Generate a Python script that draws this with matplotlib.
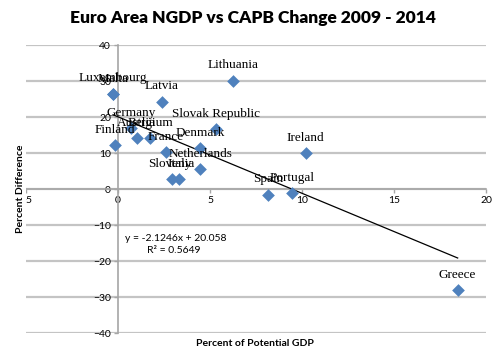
import numpy as np
import matplotlib.pyplot as plt

# data
countries = ['Luxembourg', 'Malta', 'Latvia', 'Lithuania', 'Germany', 'Finland',
             'Austria', 'Belgium', 'France', 'Slovak Republic', 'Denmark',
             'Netherlands', 'Slovenia', 'Italy', 'Spain', 'Portugal', 'Ireland', 'Greece']
capb = [-0.27, -0.25, 2.37, 6.27, 0.71, -0.16, 1.01, 1.74, 2.61, 5.30, 4.46,
        4.46, 2.92, 3.33, 8.17, 9.44, 10.20, 18.46]
ngdp = [26.5, 26.3, 24.3, 30.1, 16.9, 12.2, 14.1, 14.1, 10.2, 16.7, 11.3,
        5.6, 2.8, 2.7, -1.6, -1.2, 10.0, -28.0]

# trendline as given on the chart
slope = -2.1246
intercept = 20.058
r2 = 0.5649

fig = plt.figure(figsize=(5, 3.63), dpi=100)
ax = fig.add_axes([0.052, 0.0826, 0.92, 0.7934])

ax.set_xlim(-5, 20)
ax.set_ylim(-40, 40)
ax.set_xticks(np.arange(-5, 21, 5))
ax.set_yticks(np.arange(-40, 41, 10))

# horizontal gridlines only
ax.yaxis.grid(True, color='#c4c4c4', linewidth=1.6, zorder=0)
ax.set_axisbelow(True)

for s in ['top', 'right']:
    ax.spines[s].set_visible(False)
ax.spines['left'].set_position(('data', 0))
ax.spines['bottom'].set_position(('data', 0))
ax.spines['left'].set_color('#a6a6a6')
ax.spines['bottom'].set_color('#a6a6a6')
ax.spines['left'].set_linewidth(1.2)
ax.spines['bottom'].set_linewidth(1.2)
ax.tick_params(axis='both', colors='#a6a6a6', length=3, width=1, labelcolor='black',
               labelsize=7.5, pad=2)
for lab in ax.get_xticklabels() + ax.get_yticklabels():
    lab.set_family('Lato')

# trendline
xs = np.array([min(capb), max(capb)])
ax.plot(xs, slope * xs + intercept, color='black', linewidth=0.9, zorder=3)

ax.scatter(capb, ngdp, marker='D', s=42, color='#4f81bd', zorder=4, linewidths=0)

for name, x, y in zip(countries, capb, ngdp):
    ax.annotate(name, (x, y), xytext=(0, 11), textcoords='offset points',
                ha='center', va='center', fontsize=9.5, family='Liberation Serif',
                zorder=5)

ax.text(0.4, -13.8, 'y = -2.1246x + 20.058', fontsize=7.5, family='Lato', ha='left', va='center')
ax.text(1.55, -17.2, 'R² = 0.5649', fontsize=7.5, family='Lato', ha='left', va='center')

fig.text(0.505, 0.95, 'Euro Area NGDP vs CAPB Change 2009 - 2014', ha='center', va='center',
         fontsize=12.5, fontweight='heavy', family='Lato')
fig.text(0.51, 0.055, 'Percent of Potential GDP', ha='center', va='center',
         fontsize=7.5, fontweight='bold', family='Lato')
fig.text(0.042, 0.48, 'Percent Difference', ha='center', va='center', rotation=90,
         fontsize=7.5, fontweight='bold', family='Lato', zorder=10,
         bbox=dict(facecolor='white', edgecolor='none', pad=0.5))

plt.savefig('out.png', dpi=100)
